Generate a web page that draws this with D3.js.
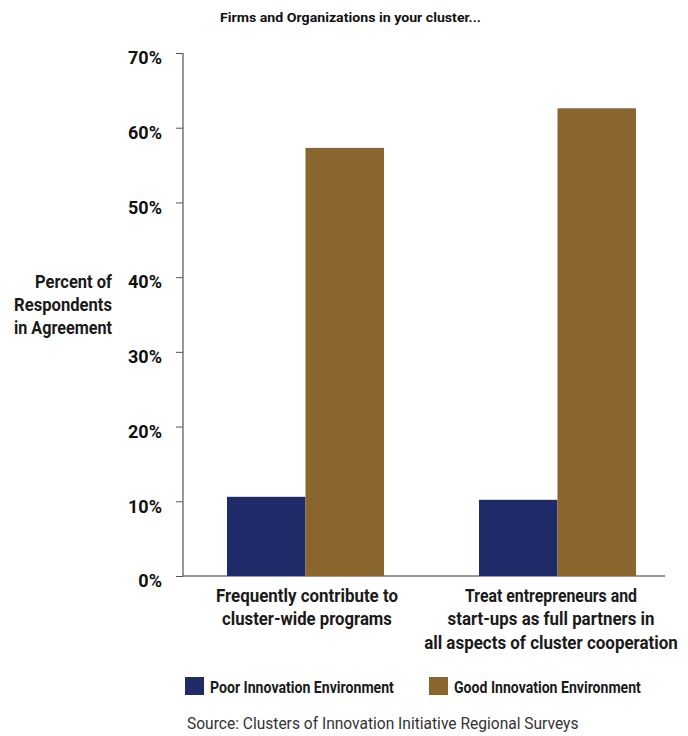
<!DOCTYPE html>
<html><head><meta charset="utf-8">
<script src="https://cdn.jsdelivr.net/npm/d3@7"></script>
<style>
body{margin:0;background:#fff;}
svg{display:block;font-family:Roboto,"Noto Sans",sans-serif;}
</style></head>
<body><svg id="c" width="688" height="736"></svg>
<script>
const categories = [
  ["Frequently contribute to","cluster-wide programs"],
  ["Treat entrepreneurs and","start-ups as full partners in","all aspects of cluster cooperation"]
];
const seriesNames = ["Poor Innovation Environment","Good Innovation Environment"];
const poorValues = [10.6, 10.2];
const goodValues = [57.3, 62.6];
const yTicks = [0,10,20,30,40,50,60,70];
const yLabel = ["Percent of","Respondents","in Agreement"];
const title = "Firms and Organizations in your cluster...";
const source = "Source: Clusters of Innovation Initiative Regional Surveys";
const colors = ["#1f2a68","#8a652e"];

// target rendered widths (layout only, px)
const fitW = {
  [title]:261,
  "Percent of":77, "Respondents":98, "in Agreement":98,
  "Frequently contribute to":182, "cluster-wide programs":170,
  "Treat entrepreneurs and":172, "start-ups as full partners in":207,
  "all aspects of cluster cooperation":254,
  "Poor Innovation Environment":184, "Good Innovation Environment":187,
  [source]:392
};
// condense text horizontally to a target width, anchored at its x
function fit(sel){
  const t = sel.text();
  const w = fitW[t];
  if (!w) return sel;
  const nat = sel.node().getComputedTextLength();
  const k = w / nat;
  const x = +sel.attr("x");
  sel.attr("transform", `translate(${x},0) scale(${k},1) translate(${-x},0)`);
  return sel;
}

const svg = d3.select("#c");
const y = d3.scaleLinear().domain([0,70]).range([576,53]);
const x0 = d3.scaleBand().domain([0,1]).range([179,683]);
const x1 = d3.scaleBand().domain([0,1]).range([0,157]);

// title
fit(svg.append("text").attr("x",350.5).attr("y",22).attr("text-anchor","middle")
  .attr("font-size",13.5).attr("font-weight","bold").attr("fill","#111")
  .text(title));

// y axis
const yAxis = d3.axisLeft(y).tickValues(yTicks).tickFormat(d=>d+"%").tickSize(7).tickPadding(14);
const ga = svg.append("g").attr("transform","translate(183,0)").call(yAxis);
ga.select(".domain").attr("stroke","#333").attr("d","M0,53V576");
ga.selectAll(".tick line").attr("stroke","#555");
ga.selectAll(".tick text").attr("font-size",18).attr("font-weight","bold")
  .attr("fill","#111").attr("font-family","Roboto, sans-serif").attr("dy","0.6em");

// baseline
svg.append("line").attr("x1",183).attr("x2",665).attr("y1",y(0)).attr("y2",y(0))
  .attr("stroke","#333").attr("stroke-width",1);

// bars
const series = [poorValues, goodValues];
categories.forEach((c,i)=>{
  const cx = x0(i) + x0.bandwidth()/2;
  series.forEach((vals,s)=>{
    svg.append("rect")
      .attr("x", cx - 78 + x1(s))
      .attr("width", x1.bandwidth())
      .attr("y", y(vals[i]))
      .attr("height", y(0)-y(vals[i]))
      .attr("fill", colors[s]);
  });
  c.forEach((line,k)=>{
    fit(svg.append("text").attr("x",cx + (i===0?2:-6)).attr("y",602+k*23.5).attr("text-anchor","middle")
      .attr("font-size",18).attr("font-weight","bold").attr("fill","#1a1a1a").text(line));
  });
});

// y label
yLabel.forEach((t,k)=>{
  fit(svg.append("text").attr("x",112).attr("y",288+k*23).attr("text-anchor","end")
    .attr("font-size",18).attr("font-weight","bold").attr("fill","#1a1a1a").text(t));
});

// legend
const lx = [185, 429];
seriesNames.forEach((n,s)=>{
  svg.append("rect").attr("x",lx[s]).attr("y",677).attr("width",19).attr("height",18).attr("fill",colors[s]);
  fit(svg.append("text").attr("x",lx[s]+25).attr("y",693).attr("font-size",16.5).attr("font-weight","bold")
    .attr("fill","#1a1a1a").text(n));
});

// source
fit(svg.append("text").attr("x",187).attr("y",729)
  .attr("font-size",16).attr("fill","#333").text(source));
</script></body></html>
